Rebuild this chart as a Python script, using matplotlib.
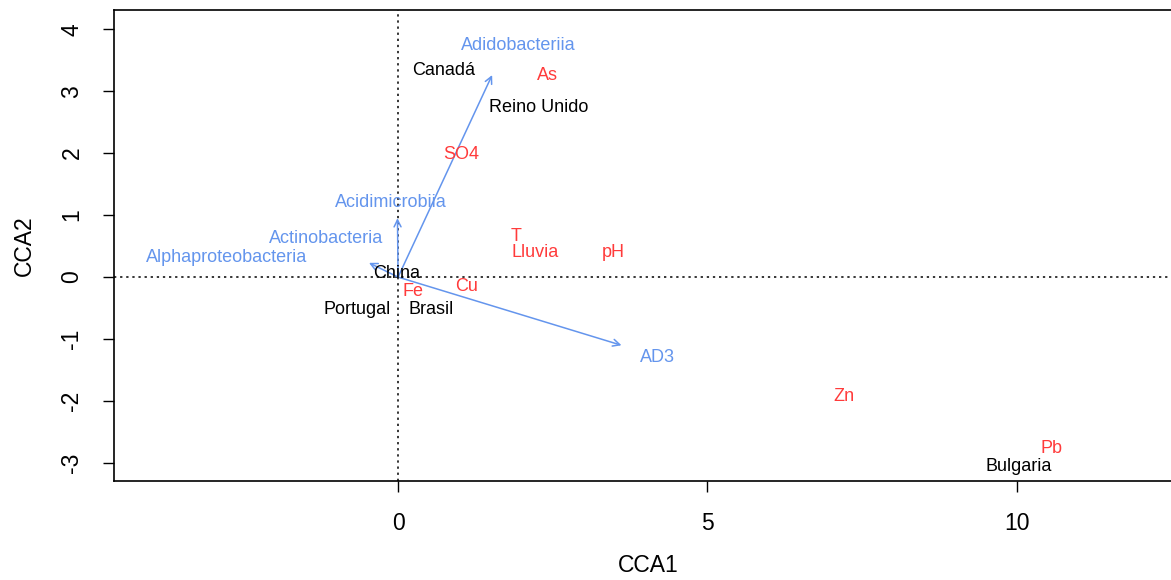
import matplotlib.pyplot as plt

plt.rcParams['font.family'] = ['Liberation Sans', 'DejaVu Sans']
plt.rcParams['axes.unicode_minus'] = False

# sites (black)
site_names = ['Canadá', 'Reino Unido', 'China', 'Portugal', 'Brasil', 'Bulgaria']
site_x = [0.73, 2.27, -0.03, -0.66, 0.53, 10.03]
site_y = [3.34, 2.73, 0.05, -0.52, -0.52, -3.05]

# environmental variables (red)
env_names = ['As', 'SO4', 'T', 'Lluvia', 'pH', 'Fe', 'Cu', 'Zn', 'Pb']
env_x = [2.42, 1.02, 1.90, 2.21, 3.48, 0.24, 1.10, 7.21, 10.56]
env_y = [3.26, 1.97, 0.65, 0.39, 0.39, -0.24, -0.15, -1.92, -2.77]

# taxa (blue) labels and arrow tips
taxa_names = ['Adidobacteriia', 'Acidimicrobiia', 'Actinobacteria',
              'Alphaproteobacteria', 'AD3']
taxa_x = [1.94, -0.11, -1.16, -2.77, 4.19]
taxa_y = [3.73, 1.21, 0.63, 0.31, -1.29]
arrow_x = [1.52, -0.01, 0.0, -0.47, 3.61]
arrow_y = [3.26, 0.95, 0.0, 0.23, -1.10]

blue = '#6495ED'
red = '#FF3B3B'

fig = plt.figure(figsize=(11.71, 5.8), dpi=100)
ax = fig.add_axes([0.0974, 0.1707, 0.9126, 0.8121])

ax.axhline(0, color='black', ls=(0, (1.5, 2.5)), lw=1.1)
ax.axvline(0, color='black', ls=(0, (1.5, 2.5)), lw=1.1)

for ax_, ay_ in zip(arrow_x, arrow_y):
    if ax_ == 0 and ay_ == 0:
        continue
    ax.annotate('', xy=(ax_, ay_), xytext=(0, 0),
                arrowprops=dict(arrowstyle='->,head_length=0.5,head_width=0.25',
                                color=blue, lw=1.1, shrinkA=0, shrinkB=0))

fs = 13
for n, x, y in zip(taxa_names, taxa_x, taxa_y):
    ax.text(x, y, n, color=blue, fontsize=fs, ha='center', va='center')
for n, x, y in zip(env_names, env_x, env_y):
    ax.text(x, y, n, color=red, fontsize=fs, ha='center', va='center')
for n, x, y in zip(site_names, site_x, site_y):
    ax.text(x, y, n, color='black', fontsize=fs, ha='center', va='center')

ax.set_xlim(-4.59, 12.68)
ax.set_ylim(-3.29, 4.31)
ax.set_xticks([0, 5, 10])
ax.set_yticks([-3, -2, -1, 0, 1, 2, 3, 4])
ax.tick_params(direction='out', length=8, width=1, labelsize=16.5, pad=14)
for lab in ax.get_yticklabels():
    lab.set_rotation(90)
    lab.set_va('center')
for s in ax.spines.values():
    s.set_linewidth(1.2)

ax.set_xlabel('CCA1', fontsize=16.5, labelpad=14)
ax.set_ylabel('CCA2', fontsize=16.5, labelpad=18)

fig.savefig('out.png', dpi=100)
